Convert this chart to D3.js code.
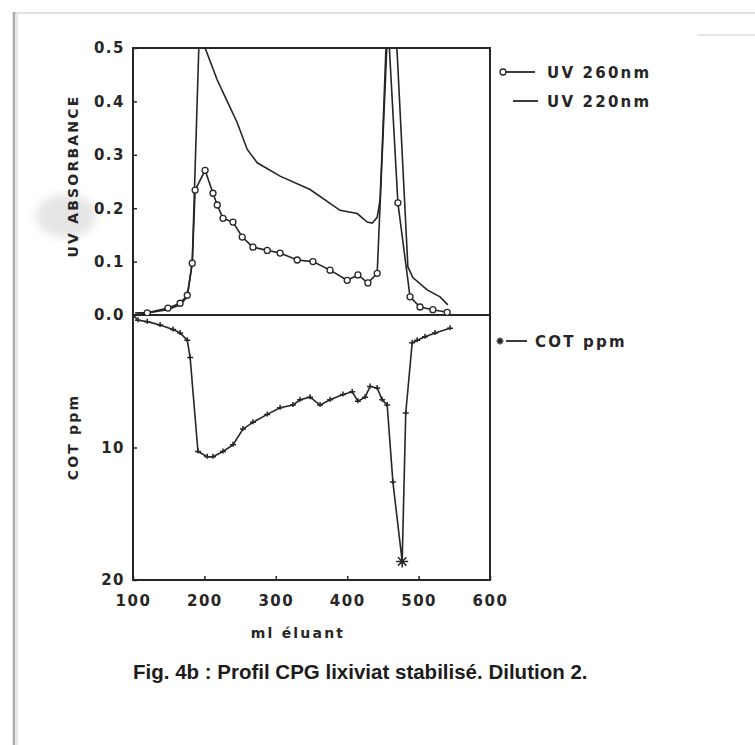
<!DOCTYPE html>
<html>
<head>
<meta charset="utf-8">
<script src="https://cdn.jsdelivr.net/npm/d3@7"></script>
<style>
  body { margin: 0; background: #fff; }
  .lbl { font-family: "DejaVu Sans", sans-serif; font-weight: bold; font-size: 14px; letter-spacing: 2.2px; fill: #262626; }
  .leg { font-family: "DejaVu Sans", sans-serif; font-weight: bold; font-size: 15px; letter-spacing: 2.2px; fill: #262626; }
  .tick text { font-family: "DejaVu Sans", sans-serif; font-weight: bold; font-size: 15px; letter-spacing: 1.5px; fill: #262626; }
</style>
</head>
<body>
<script>
// UV 260 nm (circles)
const uv260Ml = [103, 120, 149, 166, 176, 183, 187, 201, 212, 218, 226, 240, 253, 268, 288, 306, 330, 352, 376, 400, 415, 429, 442, 457, 471, 488, 502, 520, 540];
const uv260Abs = [0.0, 0.004, 0.013, 0.022, 0.037, 0.097, 0.234, 0.271, 0.228, 0.206, 0.181, 0.174, 0.146, 0.127, 0.121, 0.116, 0.103, 0.1, 0.084, 0.065, 0.075, 0.06, 0.078, 0.55, 0.21, 0.034, 0.015, 0.01, 0.005];

// UV 220 nm (plain line)
const uv220Ml = [103, 120, 148, 166, 176, 180, 183, 194, 201, 218, 232, 246, 260, 274, 306, 348, 390, 414, 428, 435, 442, 446, 450, 454, 458, 465, 470, 485, 492, 512, 530, 541];
const uv220Abs = [0.004, 0.004, 0.01, 0.019, 0.034, 0.07, 0.1, 0.58, 0.5, 0.44, 0.4, 0.36, 0.31, 0.285, 0.26, 0.235, 0.196, 0.19, 0.174, 0.172, 0.183, 0.215, 0.345, 0.49, 0.58, 0.58, 0.49, 0.09, 0.07, 0.047, 0.034, 0.019];

// COT ppm (stars)
const cotMl = [100, 107, 120, 138, 156, 166, 176, 180, 191, 204, 212, 226, 240, 254, 268, 288, 306, 324, 334, 348, 362, 376, 394, 407, 415, 425, 432, 442, 449, 456, 464, 477, 482, 491, 498, 509, 523, 544];
const cotPpm = [0, 0.4, 0.5, 0.75, 1.1, 1.35, 1.9, 3.2, 10.3, 10.7, 10.7, 10.3, 9.8, 8.6, 8.1, 7.5, 7.0, 6.8, 6.4, 6.2, 6.8, 6.4, 6.0, 5.8, 6.5, 6.2, 5.4, 5.5, 6.4, 6.8, 12.6, 18.6, 7.4, 2.1, 1.9, 1.65, 1.35, 1.0];

const xTicks = [100, 200, 300, 400, 500, 600];
const uvTicks = [0, 0.1, 0.2, 0.3, 0.4, 0.5];
const cotTicks = [10, 20];

const plotLeft = 133, plotRight = 490, plotTop = 48, plotMid = 315, plotBottom = 580;
const ink = "#262626";

const svg = d3.select("body").append("svg").attr("width", 755).attr("height", 745);

// page edge of the scan
svg.append("line").attr("x1", 13).attr("x2", 755).attr("y1", 13).attr("y2", 13)
  .attr("stroke", "#e2e2e2").attr("stroke-width", 2);
svg.append("line").attr("x1", 14).attr("x2", 14).attr("y1", 12).attr("y2", 745)
  .attr("stroke", "#a8a8a8").attr("stroke-width", 2.5);
svg.append("line").attr("x1", 17).attr("x2", 17).attr("y1", 14).attr("y2", 745)
  .attr("stroke", "#e6e6e6").attr("stroke-width", 2);
svg.append("line").attr("x1", 697).attr("x2", 755).attr("y1", 35).attr("y2", 35)
  .attr("stroke", "#dcdcdc").attr("stroke-width", 1.5);

// scan smudge behind the y label
const defs = svg.append("defs");
defs.append("filter").attr("id", "blur").append("feGaussianBlur").attr("stdDeviation", 5);
svg.append("ellipse").attr("cx", 66).attr("cy", 216).attr("rx", 30).attr("ry", 22)
  .attr("fill", "#9a9a9a").attr("opacity", 0.25).attr("filter", "url(#blur)");

defs.append("clipPath").attr("id", "clipTop").append("rect")
  .attr("x", plotLeft).attr("y", plotTop).attr("width", plotRight - plotLeft).attr("height", plotMid - plotTop);

const x = d3.scaleLinear().domain([100, 600]).range([plotLeft, plotRight]);
const yUv = d3.scaleLinear().domain([0, 0.5]).range([plotMid, plotTop]);
const yCot = d3.scaleLinear().domain([0, 20]).range([plotMid, plotBottom]);

// axes
svg.append("g").attr("transform", `translate(${plotLeft},0)`)
  .call(d3.axisLeft(yUv).tickValues(uvTicks).tickFormat(d3.format(".1f")).tickSize(-4).tickPadding(8))
  .call(g => g.select(".domain").remove());
svg.append("g").attr("transform", `translate(${plotLeft},0)`)
  .call(d3.axisLeft(yCot).tickValues(cotTicks).tickFormat(d3.format("d")).tickSize(-4).tickPadding(8))
  .call(g => g.select(".domain").remove());
svg.append("g").attr("transform", `translate(0,${plotBottom})`)
  .call(d3.axisBottom(x).tickValues(xTicks).tickSize(-4).tickPadding(15))
  .call(g => g.select(".domain").remove());
svg.selectAll(".tick line").attr("stroke", ink).attr("stroke-width", 1.5);

// frame
svg.append("rect").attr("x", plotLeft).attr("y", plotTop).attr("width", plotRight - plotLeft).attr("height", plotBottom - plotTop)
  .attr("fill", "none").attr("stroke", ink).attr("stroke-width", 2);
svg.append("line").attr("x1", plotLeft).attr("x2", plotRight).attr("y1", plotMid).attr("y2", plotMid)
  .attr("stroke", ink).attr("stroke-width", 2);

// curves
const plot = svg.append("g").attr("clip-path", "url(#clipTop)");
const uv220 = uv220Ml.map((m, i) => [m, uv220Abs[i]]);
const uv260 = uv260Ml.map((m, i) => [m, uv260Abs[i]]);
const cot = cotMl.map((m, i) => [m, cotPpm[i]]);

const lineUv = d3.line().x(d => x(d[0])).y(d => yUv(d[1]));
const lineCot = d3.line().x(d => x(d[0])).y(d => yCot(d[1]));

plot.append("path").attr("d", lineUv(uv220)).attr("fill", "none").attr("stroke", ink).attr("stroke-width", 1.6);
plot.append("path").attr("d", lineUv(uv260)).attr("fill", "none").attr("stroke", ink).attr("stroke-width", 1.6);
plot.selectAll("circle.m260")
  .data(uv260.filter((d, i) => i > 0 && d[1] < 0.5))
  .enter().append("circle")
  .attr("class", "m260")
  .attr("cx", d => x(d[0])).attr("cy", d => yUv(d[1])).attr("r", 3)
  .attr("fill", "#fff").attr("stroke", ink).attr("stroke-width", 1.3);

svg.append("path").attr("d", lineCot(cot)).attr("fill", "none").attr("stroke", ink).attr("stroke-width", 1.6);

function star(s) {
  const a = s * 0.7;
  return `M${-s},0L${s},0M0,${-s}L0,${s}M${-a},${-a}L${a},${a}M${-a},${a}L${a},${-a}`;
}
svg.selectAll("path.mcot")
  .data(cot.slice(1))
  .enter().append("path")
  .attr("class", "mcot")
  .attr("transform", d => `translate(${x(d[0])},${yCot(d[1])})`)
  .attr("d", d => d[1] > 15 ? star(6) : "M-3,0L3,0M0,-3L0,2")
  .attr("stroke", ink).attr("stroke-width", 1.5).attr("fill", "none");

// axis titles
svg.append("text").attr("class", "lbl").attr("transform", "translate(78,176) rotate(-90)")
  .attr("text-anchor", "middle").text("UV ABSORBANCE");
svg.append("text").attr("class", "lbl").attr("transform", "translate(78,437) rotate(-90)")
  .attr("text-anchor", "middle").text("COT ppm");
svg.append("text").attr("class", "lbl").attr("x", 298).attr("y", 638)
  .attr("text-anchor", "middle").text("ml éluant");

// legends
svg.append("line").attr("x1", 506).attr("x2", 535).attr("y1", 72).attr("y2", 72).attr("stroke", ink).attr("stroke-width", 1.8);
svg.append("circle").attr("cx", 503).attr("cy", 72).attr("r", 3).attr("fill", "#fff").attr("stroke", ink).attr("stroke-width", 1.3);
svg.append("text").attr("class", "leg").attr("x", 547).attr("y", 78).text("UV 260nm");
svg.append("line").attr("x1", 513).attr("x2", 538).attr("y1", 101).attr("y2", 101).attr("stroke", ink).attr("stroke-width", 1.8);
svg.append("text").attr("class", "leg").attr("x", 547).attr("y", 107).text("UV 220nm");
svg.append("path").attr("transform", "translate(500,341)").attr("d", star(3.5)).attr("stroke", ink).attr("stroke-width", 1.5);
svg.append("line").attr("x1", 506).attr("x2", 527).attr("y1", 341).attr("y2", 341).attr("stroke", ink).attr("stroke-width", 1.8);
svg.append("text").attr("class", "leg").attr("x", 535).attr("y", 347).text("COT ppm");

// caption
svg.append("text").attr("x", 133).attr("y", 679)
  .style("font-family", "'Liberation Sans', Arial, sans-serif").style("font-weight", "bold")
  .style("font-size", "20.5px").attr("fill", "#1c1c1c")
  .text("Fig. 4b : Profil CPG lixiviat stabilisé. Dilution 2.");
</script>
</body>
</html>
